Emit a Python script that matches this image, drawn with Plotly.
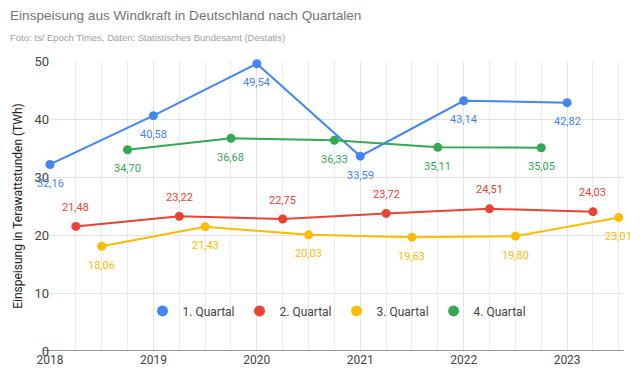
import plotly.graph_objects as go

years = [2018, 2019, 2020, 2021, 2022, 2023]
series_names = ["1. Quartal", "2. Quartal", "3. Quartal", "4. Quartal"]
q1 = [32.16, 40.58, 49.54, 33.59, 43.14, 42.82]
q2 = [21.48, 23.22, 22.75, 23.72, 24.51, 24.03]
q3 = [18.06, 21.43, 20.03, 19.63, 19.80, 23.01]
q4 = [34.70, 36.68, 36.33, 35.11, 35.05]
quarter_offsets = [0.0, 0.25, 0.5, 0.75]
colors = ["#4285F4", "#EA4335", "#FBBC04", "#34A853"]
label_shift = [-19, 19, -19, -19]

W, H = 640, 377
ml, mr, mt, mb = 50, 16, 61, 26
pw = W - ml - mr
ph = H - mt - mb

fig = go.Figure()
annotations = []
for name, vals, off, col, shift in zip(series_names, [q1, q2, q3, q4], quarter_offsets, colors, label_shift):
    xs = [y + off for y in years[:len(vals)]]
    fig.add_trace(go.Scatter(
        x=xs, y=vals, name=name, mode="lines+markers",
        line=dict(color=col, width=2),
        marker=dict(color=col, size=9),
        showlegend=False, cliponaxis=False,
    ))
    for x, v in zip(xs, vals):
        annotations.append(dict(
            x=x, y=v, xref="x", yref="y", text=f"{v:.2f}".replace(".", ","),
            showarrow=False, yshift=shift, xanchor="center", yanchor="middle",
            font=dict(size=11, color=col, family="Roboto"),
        ))
    # legend-only marker entry
    fig.add_trace(go.Scatter(
        x=[None], y=[None], name=name, mode="markers",
        marker=dict(color=col, size=11), showlegend=True,
    ))

annotations += [
    dict(text="Einspeisung aus Windkraft in Deutschland nach Quartalen",
         xref="paper", yref="paper", x=(8 - ml) / pw, y=1 + (mt - 6) / ph,
         xanchor="left", yanchor="top", showarrow=False,
         font=dict(size=13.6, color="#757575", family="Liberation Sans, Arial")),
    dict(text="Foto: ts/ Epoch Times, Daten: Statistisches Bundesamt (Destatis)",
         xref="paper", yref="paper", x=(8 - ml) / pw, y=1 + (mt - 30) / ph,
         xanchor="left", yanchor="top", showarrow=False,
         font=dict(size=9.5, color="#9e9e9e", family="Liberation Sans, Arial")),
]

fig.update_layout(
    width=W, height=H,
    margin=dict(l=ml, r=mr, t=mt, b=mb, autoexpand=False),
    paper_bgcolor="white", plot_bgcolor="white",
    font=dict(family="Roboto", color="#444"),
    showlegend=True,
    legend=dict(orientation="h", x=0.5, xanchor="center", y=0.138, yanchor="middle",
                font=dict(size=12, color="#444"), bgcolor="rgba(0,0,0,0)",
                traceorder="normal", itemwidth=30),
    xaxis=dict(range=[2018, 2023.55], tickmode="array", tickvals=years,
               ticktext=[str(y) for y in years], automargin=False,
               showgrid=True, gridcolor="#e4e4e4", gridwidth=1,
               minor=dict(tickmode="linear", tick0=2018, dtick=0.25, showgrid=True, gridcolor="#ececec"),
               zeroline=False, showline=False, ticks="",
               tickfont=dict(size=12, color="#444")),
    yaxis=dict(range=[0, 50], tickmode="linear", tick0=0, dtick=10, automargin=False,
               showgrid=True, gridcolor="#e3e3e3", zeroline=False,
               showline=False, ticks="",
               tickfont=dict(size=13, color="#444"),
               title=dict(text="Einspeisung in Terawattstunden (TWh)", font=dict(size=12, color="#222"), standoff=9)),
    shapes=[dict(type="line", xref="paper", yref="y", x0=-7 / pw, x1=1, y0=0, y1=0,
                 line=dict(color="#333", width=1))],
    annotations=annotations,
)

fig.write_html("out.html", config={"displayModeBar": False},
               post_script="document.body.style.margin='0';document.body.style.overflow='hidden';")
